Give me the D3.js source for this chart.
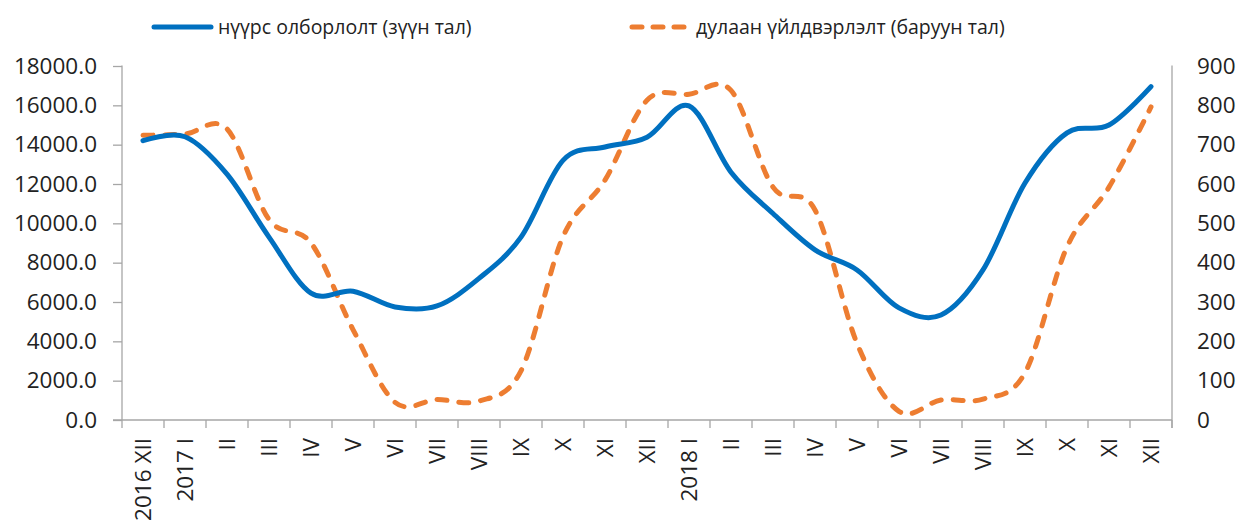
<!DOCTYPE html>
<html>
<head>
<meta charset="utf-8">
<script src="https://cdn.jsdelivr.net/npm/d3@7"></script>
<style>
  body { margin: 0; background: #fff; }
  svg text { font-family: "Open Sans", sans-serif; fill: #222; }
</style>
</head>
<body>
<div id="chart"></div>
<script>
// months, Dec 2016 - Dec 2018
const categories = ["2016 XII", "2017 I", "II", "III", "IV", "V", "VI", "VII", "VIII", "IX", "X", "XI", "XII",
    "2018 I", "II", "III", "IV", "V", "VI", "VII", "VIII", "IX", "X", "XI", "XII"];
const coal = [14200, 14400, 12500, 9300, 6450, 6550, 5750, 5800, 7200, 9300, 13200, 13880, 14380,
    15970, 12600, 10500, 8650, 7630, 5700, 5340, 7630, 12050, 14600, 15000, 16950];
const heat = [724, 727, 740, 510, 450, 230, 45, 52, 48, 125, 466, 610, 813,
    828, 838, 592, 534, 195, 22, 51, 53, 120, 440, 592, 796];
const leftTicks = [0, 2000, 4000, 6000, 8000, 10000, 12000, 14000, 16000, 18000];
const rightTicks = [0, 100, 200, 300, 400, 500, 600, 700, 800, 900];
const seriesNames = ["нүүрс олборлолт (зүүн тал)", "дулаан үйлдвэрлэлт (баруун тал)"];

const width = 1240, height = 521;
const plotLeft = 122, plotRight = 1172, plotTop = 66, plotBottom = 420;
const blue = "#0070c0", orange = "#ed7d31", axisColor = "#a6a6a6";
const fontSize = 22.5, legendSize = 19.5;

const svg = d3.select("#chart").append("svg")
    .attr("width", width)
    .attr("height", height);

const x = d3.scaleBand().domain(d3.range(categories.length)).range([plotLeft, plotRight]).padding(0);
const cx = i => x(i) + x.bandwidth() / 2;
const yL = d3.scaleLinear().domain([0, 18000]).range([plotBottom, plotTop]);
const yR = d3.scaleLinear().domain([0, 900]).range([plotBottom, plotTop]);

// left axis
const gL = svg.append("g")
    .attr("transform", "translate(" + plotLeft + ",0)")
    .call(d3.axisLeft(yL).tickValues(leftTicks).tickFormat(d3.format(".1f"))
        .tickSize(9).tickPadding(16));
// right axis
const gR = svg.append("g")
    .attr("transform", "translate(" + plotRight + ",0)")
    .call(d3.axisRight(yR).tickValues(rightTicks).tickFormat(d3.format("d"))
        .tickSize(0).tickPadding(25));

[gL, gR].forEach(g => {
    g.select(".domain").attr("stroke", axisColor).attr("stroke-width", 1.3)
        .attr("d", "M0," + (plotTop - 0.5) + "V" + plotBottom);
    g.selectAll(".tick line").attr("stroke", axisColor).attr("stroke-width", 1.3);
    g.selectAll(".tick text").attr("font-size", fontSize).attr("fill", "#222");
    g.attr("font-family", null).attr("font-size", null);
});
gR.select(".domain").attr("d", "M0," + (plotTop - 0.5) + "V" + (plotBottom + 8));

// bottom axis
const gB = svg.append("g");
gB.append("line")
    .attr("x1", plotLeft - 9).attr("x2", plotRight)
    .attr("y1", plotBottom).attr("y2", plotBottom)
    .attr("stroke", axisColor).attr("stroke-width", 1.3);
gB.selectAll("line.tk")
    .data(d3.range(categories.length + 1))
    .enter().append("line")
    .attr("class", "tk")
    .attr("x1", i => i < categories.length ? x(i) : plotRight)
    .attr("x2", i => i < categories.length ? x(i) : plotRight)
    .attr("y1", plotBottom).attr("y2", plotBottom + 8)
    .attr("stroke", axisColor).attr("stroke-width", 1.3);
gB.selectAll("text")
    .data(categories)
    .enter().append("text")
    .attr("transform", (d, i) => "translate(" + cx(i) + "," + (plotBottom + 18) + ") rotate(-90)")
    .attr("text-anchor", "end")
    .attr("dy", "0.35em")
    .attr("font-size", fontSize)
    .text(d => d);

// lines
const curve = d3.curveCatmullRom.alpha(0);
const lineL = d3.line().x((d, i) => cx(i)).y(d => yL(d)).curve(curve);
const lineR = d3.line().x((d, i) => cx(i)).y(d => yR(d)).curve(curve);

svg.append("path")
    .attr("d", lineR(heat))
    .attr("fill", "none")
    .attr("stroke", orange)
    .attr("stroke-width", 5)
    .attr("stroke-linecap", "round")
    .attr("stroke-dasharray", "10 12");

svg.append("path")
    .attr("d", lineL(coal))
    .attr("fill", "none")
    .attr("stroke", blue)
    .attr("stroke-width", 5)
    .attr("stroke-linecap", "round");

// legend
const legend = svg.append("g");
legend.append("line")
    .attr("x1", 154).attr("x2", 211).attr("y1", 27).attr("y2", 27)
    .attr("stroke", blue).attr("stroke-width", 5).attr("stroke-linecap", "round");
legend.append("text")
    .attr("x", 218).attr("y", 27).attr("dy", "0.35em")
    .attr("font-size", legendSize)
    .text(seriesNames[0]);
legend.append("line")
    .attr("x1", 632).attr("x2", 684).attr("y1", 27).attr("y2", 27)
    .attr("stroke", orange).attr("stroke-width", 5).attr("stroke-linecap", "round")
    .attr("stroke-dasharray", "10 11");
legend.append("text")
    .attr("x", 696).attr("y", 27).attr("dy", "0.35em")
    .attr("font-size", legendSize)
    .text(seriesNames[1]);
</script>
</body>
</html>
